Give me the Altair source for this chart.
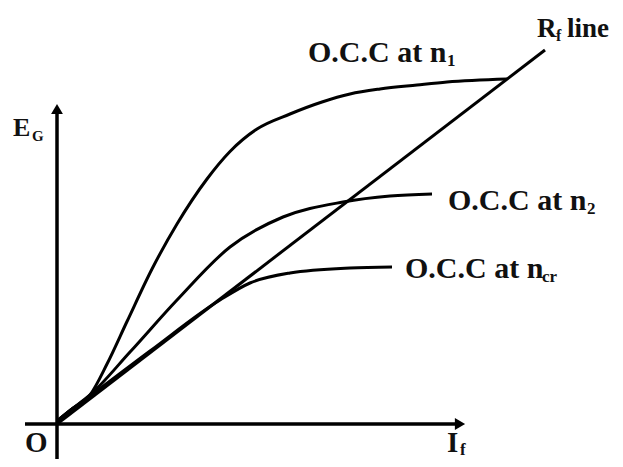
import altair as alt
import pandas as pd

# data units: 1 unit = 50 px ; origin O = (0, 0)
n1_x = [0.0, 0.3, 0.66, 1.0, 1.4, 1.9, 2.4, 3.0, 3.46, 4.0, 4.66, 5.3, 5.86, 6.46, 7.2, 7.8, 9.0]
n1_y = [0.06, 0.3, 0.58, 1.2, 2.05, 3.1, 4.0, 4.9, 5.45, 5.9, 6.2, 6.44, 6.6, 6.7, 6.78, 6.84, 6.9]

n2_x = [0.0, 0.3, 0.66, 1.46, 2.4, 3.46, 4.52, 5.72, 6.66, 7.5]
n2_y = [0.06, 0.3, 0.58, 1.44, 2.48, 3.54, 4.14, 4.44, 4.56, 4.6]

ncr_x = [0.0, 0.3, 0.66, 1.86, 3.26, 3.86, 4.66, 5.86, 6.7]
ncr_y = [0.06, 0.3, 0.56, 1.46, 2.48, 2.82, 3.02, 3.12, 3.14]

rf_x = [0.0, 9.76]
rf_y = [0.0, 7.48]

# axes
xaxis_x = [-0.64, 8.06]
xaxis_y = [0.0, 0.0]
yaxis_x = [0.0, 0.0]
yaxis_y = [-0.70, 6.3]

# labels
lab_text = ["O.C.C at n", "1", "R", "f", "line", "O.C.C at n", "2", "O.C.C at n", "cr",
            "E", "G", "O", "I", "f"]
lab_x = [5.02, 7.8, 9.6, 9.98, 10.2, 7.82, 10.6, 6.96, 9.7, -0.88, -0.5, -0.64, 7.8, 8.06]
lab_y = [7.24, 7.16, 7.74, 7.66, 7.74, 4.28, 4.2, 2.92, 2.84, 5.76, 5.66, -0.56, -0.56, -0.62]
lab_size = [30, 17, 27, 16, 27, 30, 17, 30, 17, 26, 15, 29, 29, 17]

rows = []
for name, xs, ys in [("n1", n1_x, n1_y), ("n2", n2_x, n2_y), ("ncr", ncr_x, ncr_y)]:
    for i, (a, b) in enumerate(zip(xs, ys)):
        rows.append({"curve": name, "i": i, "x": a, "y": b})
curves = pd.DataFrame(rows)

straight_rows = []
for name, xs, ys in [("rf", rf_x, rf_y), ("xaxis", xaxis_x, xaxis_y), ("yaxis", yaxis_x, yaxis_y)]:
    for i, (a, b) in enumerate(zip(xs, ys)):
        straight_rows.append({"curve": name, "i": i, "x": a, "y": b})
straight = pd.DataFrame(straight_rows)

labels = pd.DataFrame({"text": lab_text, "x": lab_x, "y": lab_y, "size": lab_size})

arrows = pd.DataFrame({
    "x": [xaxis_x[1], yaxis_x[1]],
    "y": [xaxis_y[1], yaxis_y[1]],
    "shape": ["triangle-right", "triangle-up"],
})

xs = alt.Scale(domain=[-0.98, 11.16], nice=False, zero=False)
ys = alt.Scale(domain=[-0.70, 8.32], nice=False, zero=False)
X = alt.X("x:Q", scale=xs, axis=None)
Y = alt.Y("y:Q", scale=ys, axis=None)

curve_layer = alt.Chart(curves).mark_line(
    color="black", strokeWidth=3, interpolate="monotone"
).encode(x=X, y=Y, detail="curve:N", order="i:Q")

rf_layer = alt.Chart(straight[straight.curve == "rf"]).mark_line(
    color="black", strokeWidth=3
).encode(x=X, y=Y, detail="curve:N", order="i:Q")

axis_layer = alt.Chart(straight[straight.curve != "rf"]).mark_line(
    color="black", strokeWidth=3.5
).encode(x=X, y=Y, detail="curve:N", order="i:Q")

arrow_layer = alt.Chart(arrows).mark_point(
    filled=True, color="black", opacity=1, size=140
).encode(x=X, y=Y, shape=alt.Shape("shape:N", scale=None))

text_layer = alt.Chart(labels).mark_text(
    font="Liberation Serif, Times New Roman, DejaVu Serif, serif", fontWeight="bold",
    align="left", baseline="alphabetic", color="#111111"
).encode(x=X, y=Y, text="text:N", size=alt.Size("size:Q", scale=None))

chart = alt.layer(axis_layer, rf_layer, curve_layer, arrow_layer, text_layer).properties(
    width=607, height=451, padding=0, autosize=alt.AutoSizeParams(type="none"),
    background="white"
).configure_view(stroke=None)

chart.save("out.html", embed_options={"renderer": "svg", "actions": False})
